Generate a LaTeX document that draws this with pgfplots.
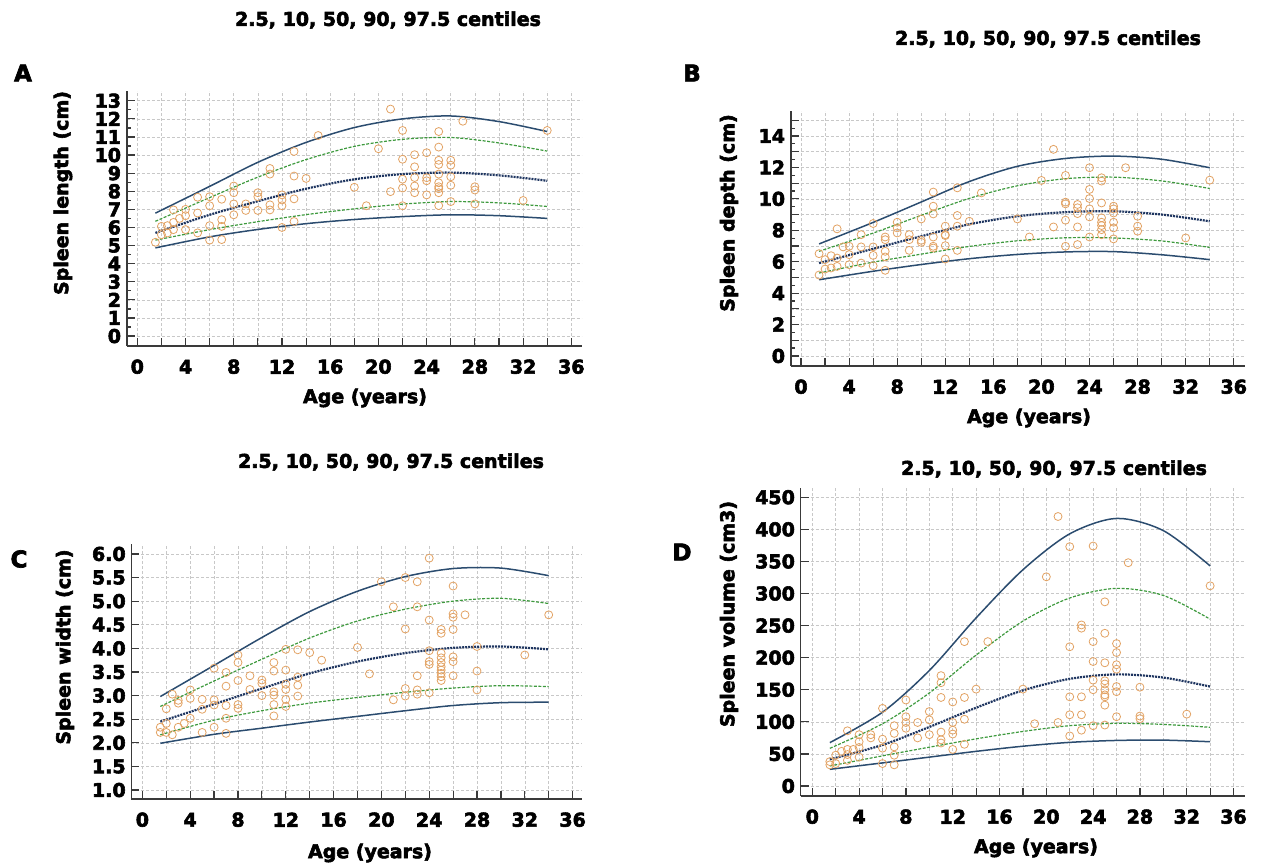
\documentclass[border=0pt]{standalone}
\usepackage{fontspec}
\setmainfont{DejaVu Sans}[BoldFeatures={FakeBold=3}]
\usepackage{pgfplots}
\pgfplotsset{compat=1.18}

\definecolor{axisc}{HTML}{3A3A3A}
\definecolor{gridc}{HTML}{C8C8C8}
\definecolor{navy}{HTML}{2B4C6F}
\definecolor{mednavy}{HTML}{1E3560}
\definecolor{cgreen}{HTML}{3E9A3E}
\definecolor{ptc}{HTML}{E2A263}

\newcommand{\lab}{\fontsize{19bp}{22bp}\selectfont\bfseries}
\newcommand{\letter}{\fontsize{23bp}{26bp}\selectfont\bfseries}

\pgfplotsset{
  panel/.style={scale only axis, anchor=south west,
    axis x line*=bottom, axis y line*=left,
    axis line style={draw=axisc, line width=1.6bp, -},
    tick style={draw=axisc, line width=1.2bp},
    major tick length=8bp, minor tick length=4bp,
    grid=major, major grid style={draw=gridc, line width=0.6bp, dash pattern=on 3bp off 2bp},
    tick label style={font=\lab},
    xticklabel style={anchor=center, inner sep=0pt, yshift=-20.7bp},
    yticklabel style={anchor=east, inner sep=0pt, xshift=-5.5bp},
    xtick={0,2,...,36}, xticklabels={0,,4,,8,,12,,16,,20,,24,,28,,32,,36}},
  c975/.style={no marks, smooth, draw=navy, line width=1.5bp},
  c90/.style={no marks, smooth, draw=cgreen, line width=1.2bp, dash pattern=on 3bp off 1.5bp},
  c50/.style={no marks, smooth, draw=mednavy, line width=2.2bp, dash pattern=on 2bp off 1bp},
  pts/.style={only marks, mark=o, mark size=4bp, mark options={draw=ptc, line width=0.8bp}},
}

\begin{document}
\begin{tikzpicture}
\path[use as bounding box] (0,0) rectangle (1264bp,-866bp);

% ---------- A: spleen length
\begin{axis}[panel, at={(126.7bp,-346bp)}, width=455bp, height=255bp,
  xmin=-0.88, xmax=36.86, ymin=-0.55, ymax=13.54,
  ytick={0,1,...,13}, yticklabels={0,1,2,3,4,5,6,7,8,9,10,11,12,13}, minor y tick num=1]
\addplot[c975] coordinates {(1.5,6.79)(6,8.27)(10,9.6)(14,10.7)(18,11.52)(22,12.0)(26,12.16)(30,11.85)(34,11.3)};
\addplot[c90] coordinates {(1.5,6.34)(6,7.65)(10,8.78)(14,9.75)(18,10.48)(22,10.87)(26,10.97)(30,10.67)(34,10.22)};
\addplot[c50] coordinates {(1.5,5.7)(6,6.7)(10,7.45)(14,8.14)(18,8.66)(22,8.95)(26,9.03)(30,8.88)(34,8.58)};
\addplot[c90] coordinates {(1.5,5.3)(6,5.88)(10,6.32)(14,6.71)(18,7.03)(22,7.29)(26,7.43)(30,7.36)(34,7.16)};
\addplot[c975] coordinates {(1.5,4.87)(6,5.48)(10,5.89)(14,6.21)(18,6.44)(22,6.6)(26,6.7)(30,6.65)(34,6.5)};
\addplot[pts] coordinates {
(1.5,5.18)(2,6.06)(2,5.6)(2.5,6.1)(2.5,5.7)(3,6.97)(3,6.28)(3,5.88)(3.5,6.5)(4,7.0)(4,6.65)(4,5.88)
(5,7.67)(5,6.8)(5,5.7)(6,7.7)(6,7.2)(6,6.1)(6,5.3)(7,7.56)(7,6.43)(7,6.06)(7,5.33)
(8,8.29)(8,7.92)(8,7.3)(8,6.7)(9,7.3)(9,6.94)(10,7.92)(10,7.7)(10,6.94)
(11,9.26)(11,8.95)(11,7.25)(11,6.97)(12,7.8)(12,7.52)(12,7.2)(12,6.0)
(13,10.2)(13,8.84)(13,7.58)(13,6.33)(14,8.71)(15,11.08)(18,8.22)(19,7.2)(20,10.35)
(21,12.54)(21,7.98)(22,11.36)(22,9.77)(22,8.67)(22,8.18)(22,7.2)
(23,10.02)(23,9.35)(23,8.76)(23,8.29)(23,7.92)(24,10.13)(24,8.75)(24,8.58)(24,7.8)
(25,11.3)(25,10.44)(25,9.71)(25,9.48)(25,8.95)(25,8.47)(25,8.25)(25,8.14)(25,7.92)(25,7.21)
(26,9.71)(26,9.44)(26,8.8)(26,8.33)(26,7.43)(27,11.87)(28,8.25)(28,8.07)(28,7.3)(32,7.49)(34,11.36)};
\end{axis}

% ---------- B: spleen depth
\begin{axis}[panel, at={(790.7bp,-366bp)}, width=454bp, height=255bp,
  xmin=-0.86, xmax=36.91, ymin=-0.64, ymax=15.59,
  ytick={0,1,...,15}, yticklabels={0,,2,,4,,6,,8,,10,,12,,14,}, minor y tick num=1]
\addplot[c975] coordinates {(1.5,7.13)(6,8.5)(10,9.8)(14,11.1)(18,12.07)(22,12.57)(26,12.72)(30,12.52)(34,11.98)};
\addplot[c90] coordinates {(1.5,6.66)(6,7.82)(10,8.95)(14,10.03)(18,10.83)(22,11.28)(26,11.38)(30,11.14)(34,10.66)};
\addplot[c50] coordinates {(1.5,5.91)(6,6.82)(10,7.62)(14,8.38)(18,8.89)(22,9.15)(26,9.21)(30,9.0)(34,8.57)};
\addplot[c90] coordinates {(1.5,5.28)(6,5.97)(10,6.48)(14,6.97)(18,7.33)(22,7.52)(26,7.51)(30,7.32)(34,6.91)};
\addplot[c975] coordinates {(1.5,4.85)(6,5.39)(10,5.82)(14,6.19)(18,6.46)(22,6.62)(26,6.64)(30,6.44)(34,6.13)};
\addplot[pts] coordinates {
(1.5,6.51)(1.5,5.15)(2,6.13)(2,5.53)(2.5,6.38)(2.5,5.6)(3,8.09)(3,6.23)(3,5.7)(3.5,6.94)
(4,6.98)(4,6.45)(4,5.81)(5,7.72)(5,6.94)(5,5.91)(6,8.43)(6,6.94)(6,6.4)(6,5.74)
(7,7.57)(7,7.4)(7,6.66)(7,6.3)(7,5.45)(8,8.51)(8,8.15)(8,7.83)(9,7.72)(9,7.4)(9,6.72)
(10,8.72)(10,7.36)(10,7.23)(11,10.43)(11,9.53)(11,9.04)(11,7.57)(11,6.98)(11,6.87)
(12,8.26)(12,7.72)(12,7.66)(12,7.02)(12,6.17)(13,10.7)(13,8.94)(13,8.26)(13,6.72)
(14,8.57)(15,10.38)(18,8.72)(19,7.57)(20,11.17)(21,13.15)(21,8.21)
(22,11.49)(22,9.79)(22,9.68)(22,8.64)(22,6.98)(23,9.64)(23,9.43)(23,9.06)(23,8.21)(23,7.09)
(24,11.98)(24,10.6)(24,10.02)(24,9.36)(24,8.85)(24,7.57)
(25,11.34)(25,11.13)(25,9.74)(25,8.79)(25,8.51)(25,8.3)(25,8.04)(25,7.72)
(26,9.53)(26,9.36)(26,9.1)(26,8.51)(26,8.15)(26,7.45)(27,11.98)(28,8.89)(28,8.26)(28,7.94)(32,7.51)(34,11.19)};
\end{axis}

% ---------- C: spleen width
\begin{axis}[panel, at={(131.4bp,-799bp)}, width=451bp, height=255bp,
  xmin=-0.92, xmax=36.82, ymin=0.81, ymax=6.21,
  ytick={1,1.5,...,6}, yticklabels={1.0,1.5,2.0,2.5,3.0,3.5,4.0,4.5,5.0,5.5,6.0}]
\addplot[c975] coordinates {(1.5,2.98)(6,3.64)(10,4.23)(14,4.78)(18,5.21)(22,5.52)(26,5.69)(30,5.7)(34,5.54)};
\addplot[c90] coordinates {(1.5,2.77)(6,3.31)(10,3.77)(14,4.22)(18,4.58)(22,4.83)(26,5.0)(30,5.06)(34,4.95)};
\addplot[c50] coordinates {(1.5,2.45)(6,2.82)(10,3.15)(14,3.47)(18,3.72)(22,3.9)(26,4.01)(30,4.04)(34,3.98)};
\addplot[c90] coordinates {(1.5,2.17)(6,2.48)(10,2.68)(14,2.84)(18,2.96)(22,3.07)(26,3.16)(30,3.21)(34,3.19)};
\addplot[c975] coordinates {(1.5,1.99)(6,2.18)(10,2.31)(14,2.44)(18,2.56)(22,2.68)(26,2.79)(30,2.85)(34,2.86)};
\addplot[pts] coordinates {
(1.5,2.22)(1.5,2.33)(2,2.72)(2,2.41)(2,2.22)(2.5,3.03)(2.5,2.17)(3,2.9)(3,2.84)(3,2.33)(3.5,2.41)
(4,3.12)(4,2.94)(4,2.52)(5,2.92)(5,2.71)(5,2.22)(6,3.58)(6,2.91)(6,2.8)(6,2.33)
(7,3.49)(7,3.2)(7,2.79)(7,2.52)(7,2.2)(8,3.86)(8,3.7)(8,3.32)(8,2.81)(8,2.73)(9,3.42)(9,3.13)
(10,3.33)(10,3.26)(10,3.0)(11,3.7)(11,3.52)(11,3.08)(11,3.01)(11,2.81)(11,2.57)
(12,3.98)(12,3.54)(12,3.24)(12,3.13)(12,2.92)(12,2.77)(13,3.97)(13,3.39)(13,3.22)(13,2.99)
(14,3.91)(15,3.75)(18,4.02)(19,3.46)(20,5.41)(21,4.88)(21,2.91)(22,5.5)(22,4.41)(22,3.15)(22,2.99)
(23,5.41)(23,4.88)(23,3.42)(23,3.12)(23,3.03)(24,5.91)(24,4.6)(24,3.95)(24,3.72)(24,3.66)(24,3.06)
(25,4.4)(25,4.32)(25,3.9)(25,3.8)(25,3.7)(25,3.61)(25,3.54)(25,3.47)(25,3.4)(25,3.32)
(26,5.32)(26,4.73)(26,4.66)(26,4.4)(26,3.82)(26,3.72)(26,3.42)(27,4.71)(28,4.04)(28,3.52)(28,3.12)(32,3.86)(34,4.71)};
\end{axis}

% ---------- D: spleen volume
\begin{axis}[panel, at={(800.6bp,-796bp)}, width=444.4bp, height=308bp,
  xmin=-1.0, xmax=36.98, ymin=-15.6, ymax=464.4,
  ytick={0,50,...,450}, yticklabels={0,50,100,150,200,250,300,350,400,450}]
\addplot[c975] coordinates {(1.5,67.6)(6,115)(10,180)(14,262)(18,337)(22,393)(26,417)(30,398)(34,343)};
\addplot[c90] coordinates {(1.5,58.7)(6,97)(10,145)(14,204)(18,257)(22,293)(26,308)(30,297)(34,260)};
\addplot[c50] coordinates {(1.5,41.6)(6,64)(10,92)(14,122)(18,149)(22,167)(26,174)(30,169)(34,155)};
\addplot[c90] coordinates {(1.5,31.2)(6,47)(10,60.5)(14,73.5)(18,85)(22,94)(26,97.7)(30,96)(34,91.5)};
\addplot[c975] coordinates {(1.5,26)(6,36)(10,45)(14,54)(18,62)(22,68)(26,71)(30,71.5)(34,69)};
\addplot[pts] coordinates {
(1.5,38)(1.5,33)(2,48)(2,35)(2.5,54)(3,86)(3,57)(3,49)(3,40)(3.5,57)(4,80)(4,69)(4,60)(4,45)
(5,80)(5,75)(6,121)(6,73)(6,59)(6,35)(7,94)(7,82)(7,61)(7,48)(7,33)(8,134)(8,108)(8,99)(8,90)
(9,99)(9,75)(10,116)(10,103)(10,80)(11,172)(11,161)(11,138)(11,84)(11,72)(11,67)
(12,131)(12,99)(12,87)(12,81)(12,57)(13,225)(13,138)(13,104)(13,65)(14,151)(15,225)(18,151)(19,97)
(20,326)(21,420)(21,99)(22,373)(22,217)(22,139)(22,111)(22,78)(23,251)(23,246)(23,139)(23,111)(23,87)
(24,374)(24,225)(24,194)(24,165)(24,150)(24,94)
(25,287)(25,238)(25,192)(25,164)(25,159)(25,150)(25,142)(25,139)(25,126)(25,95)
(26,222)(26,208)(26,189)(26,182)(26,155)(26,147)(26,108)(27,348)(28,154)(28,109)(28,105)(32,112)(34,312)};
\end{axis}

% ---------- titles, panel letters, axis labels
\node[font=\lab] at (388bp,-20bp) {2.5, 10, 50, 90, 97.5 centiles};
\node[font=\lab] at (1048bp,-39bp) {2.5, 10, 50, 90, 97.5 centiles};
\node[font=\lab] at (391bp,-462bp) {2.5, 10, 50, 90, 97.5 centiles};
\node[font=\lab] at (1054bp,-469bp) {2.5, 10, 50, 90, 97.5 centiles};

\node[font=\letter] at (23bp,-73bp) {A};
\node[font=\letter] at (692bp,-73bp) {B};
\node[font=\letter] at (19bp,-559bp) {C};
\node[font=\letter] at (682bp,-552bp) {D};

\node[font=\lab, rotate=90] at (63bp,-193bp) {Spleen length (cm)};
\node[font=\lab, rotate=90] at (729bp,-213bp) {Spleen depth (cm)};
\node[font=\lab, rotate=90] at (65bp,-647bp) {Spleen width (cm)};
\node[font=\lab, rotate=90] at (729bp,-614bp) {Spleen volume (cm3)};

\node[font=\lab] at (365bp,-398bp) {Age (years)};
\node[font=\lab] at (1029bp,-418bp) {Age (years)};
\node[font=\lab] at (370bp,-853bp) {Age (years)};
\node[font=\lab] at (1036bp,-848bp) {Age (years)};
\end{tikzpicture}
\end{document}
